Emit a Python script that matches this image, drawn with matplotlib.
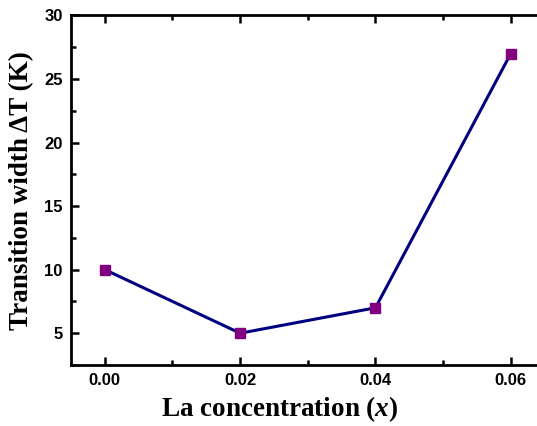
import matplotlib
matplotlib.use("Agg")
import matplotlib.pyplot as plt
from matplotlib.ticker import MultipleLocator

plt.rcParams["mathtext.fontset"] = "custom"
plt.rcParams["mathtext.it"] = "Liberation Serif:italic:bold"
plt.rcParams["mathtext.rm"] = "Liberation Serif:bold"

# La concentration vs transition width
la_conc = [0.00, 0.02, 0.04, 0.06]
delta_t = [10, 5, 7, 27]

fig = plt.figure(figsize=(5.37, 4.26), dpi=100)
# axes extend a little past the right edge, as in the cropped original
ax = fig.add_axes([0.1322, 0.1432, 0.882, 0.8207])

ax.plot(la_conc, delta_t, color="#000080", linewidth=2.2,
        marker="s", markersize=6.5, markerfacecolor="#800080",
        markeredgecolor="#800080", zorder=3)

ax.set_xlim(-0.005, 0.065)
ax.set_ylim(2.5, 30)
ax.xaxis.set_minor_locator(MultipleLocator(0.01))
ax.yaxis.set_minor_locator(MultipleLocator(2.5))
ax.set_xticks([0.0, 0.02, 0.04, 0.06])
ax.set_xticklabels(["0.00", "0.02", "0.04", "0.06"])
ax.set_yticks([5, 10, 15, 20, 25, 30])

for side in ax.spines.values():
    side.set_linewidth(2)

ax.tick_params(which="both", direction="in", top=True, right=True, width=1.8)
ax.tick_params(which="major", length=6)
ax.tick_params(which="minor", length=3.5)
ax.tick_params(axis="both", which="major", labelsize=12, pad=6)
for lbl in ax.get_xticklabels() + ax.get_yticklabels():
    lbl.set_fontfamily("Liberation Sans")
    lbl.set_fontweight("bold")

ax.set_xlabel(r"La concentration ($\mathit{x}$)", fontsize=19.5,
              fontfamily="Liberation Serif", fontweight="bold")
ax.xaxis.set_label_coords(0.441, -0.085)
ax.set_ylabel("Transition width ΔT (K)", fontsize=19.5,
              fontfamily="Liberation Serif", fontweight="bold")
ax.yaxis.set_label_coords(-0.077, 0.5)

fig.savefig("out.png", dpi=100)
